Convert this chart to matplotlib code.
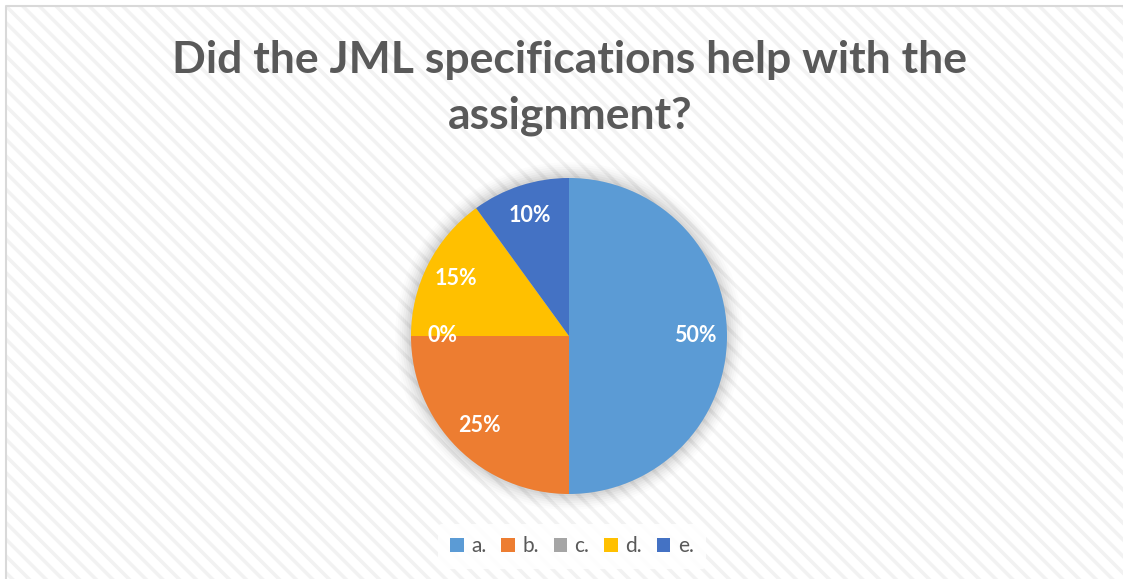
import numpy as np
import matplotlib
matplotlib.use("Agg")
import matplotlib.pyplot as plt
from matplotlib.patches import Rectangle, Patch, Circle
from matplotlib.lines import Line2D

# — Data —
categories = ["a.", "b.", "c.", "d.", "e."]
shares     = [50, 25, 0, 15, 10]
colors     = ["#5B9BD5", "#ED7D31", "#A5A5A5", "#FFC000", "#4472C4"]
title      = "Did the JML specifications help with the\nassignment?"

W, H = 1123, 579
plt.rcParams["hatch.linewidth"] = 2.5
plt.rcParams["hatch.color"] = "#F2F2F2"

fig = plt.figure(figsize=(W / 100, H / 100), dpi=100)
fig.patch.set_facecolor("white")

# — striped background + frame (left/top only) —
bg = Rectangle((6 / W, 0), 1 - 6 / W, 1 - 6 / H, transform=fig.transFigure,
               facecolor="white", edgecolor="#F2F2F2", hatch="\\\\", lw=0, zorder=-10)
fig.patches.append(bg)
fig.add_artist(Line2D([6 / W, 6 / W, 1], [0, 1 - 6 / H, 1 - 6 / H],
                      transform=fig.transFigure, color="#D9D9D9", lw=1.5, zorder=-9))

# — title —
fig.text(570 / W, 1 - 88 / H, title, ha="center", va="center",
         fontsize=32, fontweight="bold", color="#595959",
         family="Lato", linespacing=1.45)

# — pie —
cx, cy, r = 569, 336, 158
pad = 30
ax = fig.add_axes([(cx - r - pad) / W, (H - cy - r - pad) / H,
                   2 * (r + pad) / W, 2 * (r + pad) / H])
ax.set_zorder(1)
ext = (r + pad) / r

# soft shadow behind the pie
for k, a in zip(np.linspace(1.10, 1.0, 8), np.linspace(0.012, 0.04, 8)):
    ax.add_patch(Circle((0, 0), k, color="black", alpha=a, lw=0, zorder=0))

wedges, texts, autotexts = ax.pie(
    shares, colors=colors, startangle=90, counterclock=False,
    autopct="%1.0f%%", pctdistance=0.8, radius=1,
    wedgeprops=dict(linewidth=0, zorder=2),
    textprops=dict(color="white", fontsize=15.5, fontweight="bold", family="Lato"),
)
for t in autotexts:
    t.set_zorder(3)
ax.set_xlim(-ext, ext)
ax.set_ylim(-ext, ext)
ax.set_aspect("equal")
ax.axis("off")

# — legend —
handles = [Patch(facecolor=c, edgecolor="none") for c in colors]
leg = fig.legend(handles, categories, loc="center", bbox_to_anchor=(572 / W, 1 - 546 / H),
                 ncol=5, frameon=True, handlelength=0.65, handleheight=0.65,
                 handletextpad=0.35, columnspacing=0.72, borderpad=0.6,
                 prop=dict(family="Lato", size=15))
leg.get_frame().set_facecolor("white")
leg.get_frame().set_edgecolor("none")
leg.get_frame().set_alpha(0.9)
for t in leg.get_texts():
    t.set_color("#595959")

fig.savefig("out.png", dpi=100)
